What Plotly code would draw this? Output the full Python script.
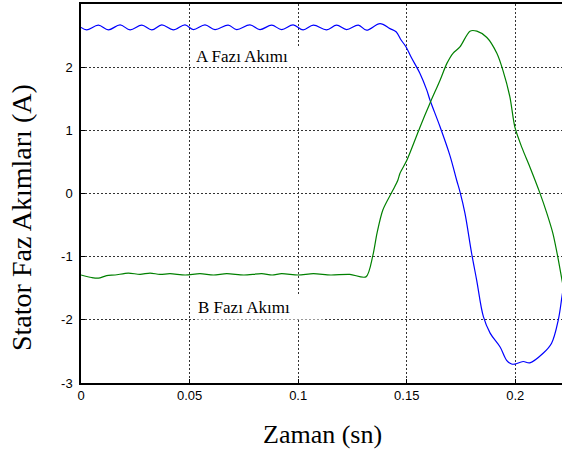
import plotly.graph_objects as go

# ---- Data ----
t_a = [0.0, 0.0026, 0.008, 0.0126, 0.018, 0.0226, 0.028, 0.0326, 0.0372, 0.0425,
       0.0479, 0.0517, 0.0571, 0.0617, 0.0678, 0.0717, 0.0778, 0.0824, 0.0878, 0.0924,
       0.0977, 0.1023, 0.107, 0.1131, 0.1177, 0.1223, 0.1277, 0.1315, 0.1377, 0.1423,
       0.1451, 0.1474, 0.1497, 0.152, 0.1561, 0.1592, 0.1607, 0.1653, 0.1699, 0.173,
       0.1745, 0.1768, 0.1799, 0.1822, 0.1853, 0.1884, 0.193, 0.196, 0.1983, 0.1998,
       0.2036, 0.2067, 0.2128, 0.2167, 0.2198, 0.2215, 0.223]
i_a = [2.63, 2.59, 2.665, 2.59, 2.67, 2.59, 2.665, 2.59, 2.67, 2.59,
       2.67, 2.595, 2.67, 2.595, 2.665, 2.595, 2.67, 2.595, 2.665, 2.595,
       2.67, 2.59, 2.665, 2.59, 2.665, 2.595, 2.665, 2.585, 2.69, 2.61,
       2.56, 2.43, 2.32, 2.16, 1.90, 1.64, 1.48, 1.06, 0.60, 0.21,
       0.03, -0.31, -0.95, -1.37, -1.95, -2.21, -2.43, -2.64, -2.70, -2.70,
       -2.66, -2.68, -2.53, -2.37, -2.0, -1.63, -1.30]

t_b = [0.0, 0.0049, 0.008, 0.0118, 0.0157, 0.0218, 0.0272, 0.0318, 0.0363, 0.041,
       0.048, 0.0548, 0.061, 0.0671, 0.075, 0.0832, 0.088, 0.0924, 0.1, 0.107,
       0.115, 0.1238, 0.1312, 0.1344, 0.1363, 0.139, 0.1436, 0.1459, 0.1469, 0.1501,
       0.1561, 0.1607, 0.1653, 0.1685, 0.1713, 0.1745, 0.1791, 0.1823, 0.1869, 0.1915,
       0.1943, 0.1975, 0.1998, 0.203, 0.2067, 0.2113, 0.2145, 0.2173, 0.2196, 0.2215, 0.223]
i_b = [-1.29, -1.33, -1.34, -1.30, -1.29, -1.26, -1.28, -1.26, -1.28, -1.27,
       -1.29, -1.27, -1.29, -1.27, -1.29, -1.27, -1.29, -1.27, -1.29, -1.27,
       -1.29, -1.28, -1.32, -0.98, -0.63, -0.26, 0.05, 0.21, 0.32, 0.53,
       1.05, 1.43, 1.79, 2.06, 2.22, 2.32, 2.57, 2.57, 2.47, 2.22,
       1.95, 1.53, 1.05, 0.73, 0.42, 0.01, -0.31, -0.63, -1.01, -1.37, -1.65]

x_ticks = [0, 0.05, 0.1, 0.15, 0.2]
x_tick_text = ["0", "0.05", "0.1", "0.15", "0.2"]
y_ticks = [-3, -2, -1, 0, 1, 2]
y_tick_text = ["-3", "-2", "-1", "0", "1", "2"]

label_a = "A Fazı Akımı"
label_b = "B Fazı Akımı"
x_title = "Zaman (sn)"
y_title = "Stator Faz Akımları (A)"

fig = go.Figure()
fig.add_trace(go.Scatter(x=t_a, y=i_a, mode="lines",
                         line=dict(color="#0000ff", width=1.2, shape="spline", smoothing=1.0),
                         showlegend=False))
fig.add_trace(go.Scatter(x=t_b, y=i_b, mode="lines",
                         line=dict(color="#008000", width=1.2, shape="spline", smoothing=0.8),
                         showlegend=False))

axis_common = dict(showline=True, linecolor="black", linewidth=1.5,
                   showgrid=True, gridcolor="#333333", gridwidth=1, griddash="2px,2px",
                   zeroline=False, ticks="inside", ticklen=4, tickcolor="black",
                   tickfont=dict(family="Liberation Sans, Arial", size=13, color="black"))

fig.update_xaxes(range=[0, 0.2215], tickvals=x_ticks, ticktext=x_tick_text,
                 mirror=True, **axis_common)
fig.update_yaxes(range=[-3, 3], tickvals=y_ticks, ticktext=y_tick_text,
                 mirror=False, ticklabelstandoff=4, **axis_common)

fig.add_annotation(x=0.0525, y=2.0, xref="x", yref="y", xanchor="left", yanchor="bottom",
                   text=label_a, showarrow=False, bgcolor="white", width=124, align="left",
                   borderpad=0, font=dict(family="Liberation Serif, Times New Roman", size=17, color="black"))
fig.add_annotation(x=0.0525, y=-2.0, xref="x", yref="y", xanchor="left", yanchor="bottom",
                   text=label_b, showarrow=False, bgcolor="white", width=124, align="left",
                   borderpad=2, font=dict(family="Liberation Serif, Times New Roman", size=17, color="black"))

fig.add_annotation(x=-0.1227, y=0.438, xref="paper", yref="paper", xanchor="center", yanchor="middle",
                   text=y_title, textangle=-90, showarrow=False,
                   font=dict(family="Liberation Serif, Times New Roman", size=28, color="black"))
fig.add_annotation(x=0.502, y=-0.137, xref="paper", yref="paper", xanchor="center", yanchor="middle",
                   text=x_title, showarrow=False,
                   font=dict(family="Liberation Serif, Times New Roman", size=26, color="black"))

fig.update_layout(width=562, height=455, margin=dict(l=81, r=0, t=4, b=72),
                  paper_bgcolor="white", plot_bgcolor="white")

fig.write_html("out.html", config={"displayModeBar": False},
               post_script="document.body.style.margin='0';document.body.style.overflow='hidden';")
